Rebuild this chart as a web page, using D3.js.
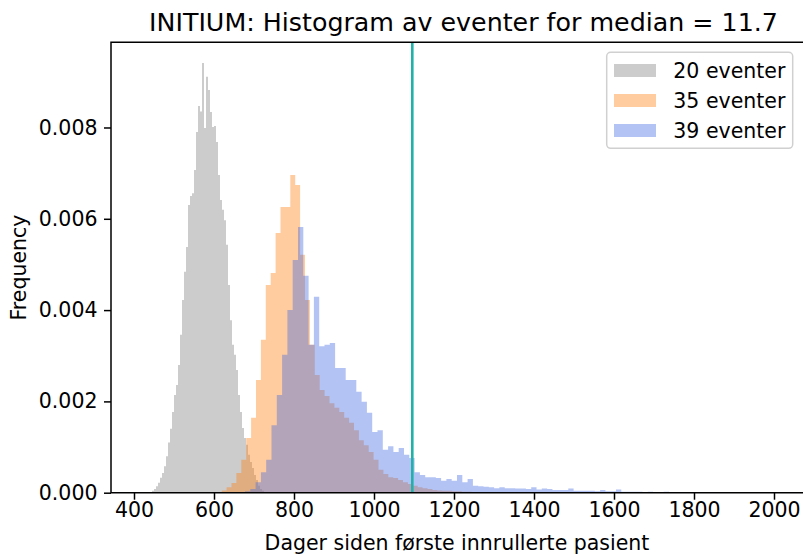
<!DOCTYPE html>
<html>
<head>
<meta charset="utf-8">
<script src="https://cdn.jsdelivr.net/npm/d3@7/dist/d3.min.js"></script>
<style>
  body { margin: 0; background: #fff; }
  text { font-family: "DejaVu Sans", sans-serif; fill: #000; }
</style>
</head>
<body>
<script>
// histogram data (density), one array per series, bin edges = start + i*width
var start20 = 445, width20 = 5;
var freq20 = [0.00004, 0.00008, 0.00014, 0.00022, 0.00033, 0.00043, 0.00058, 0.0008, 0.0011, 0.0014,
  0.00177, 0.00214, 0.00236, 0.0028, 0.00346, 0.00422, 0.00484, 0.00538, 0.0063, 0.0065,
  0.00656, 0.00707, 0.0079, 0.00847, 0.00835, 0.00941, 0.00799, 0.00911, 0.00882, 0.00834,
  0.00801, 0.00803, 0.00768, 0.00696, 0.00641, 0.0062, 0.00597, 0.00543, 0.00455, 0.00378,
  0.00324, 0.00302, 0.00269, 0.00214, 0.00177, 0.00142, 0.0012, 0.00105, 0.00083, 0.00067,
  0.00054, 0.00039, 0.00028, 0.00015, 0.00008, 0.00004];

var start35 = 619.25, width35 = 12.25;
var freq35 = [0.00005, 0.00012, 0.00021, 0.00043, 0.00072, 0.0012, 0.00164, 0.00247, 0.00335, 0.00455,
  0.00481, 0.00569, 0.00626, 0.00626, 0.00696, 0.00674, 0.00521, 0.00422, 0.00324, 0.00258,
  0.00225, 0.00212, 0.00196, 0.00186, 0.00177, 0.00164, 0.00153, 0.00137, 0.00115, 0.00104,
  0.00089, 0.00072, 0.0005, 0.00041, 0.00034, 0.00032, 0.00028, 0.00023, 0.00019, 0.00015,
  0.00012, 0.0001, 0.00008, 0.00006, 0.00005, 0.00004, 0.00004, 0.00003, 0.00003, 0.00002, 0.00002];

var start39 = 677.5, width39 = 13.25;
var freq39 = [0.00003, 0.00008, 0.00023, 0.00045, 0.00072, 0.00148, 0.00214, 0.00302, 0.004, 0.0051,
  0.00582, 0.00475, 0.00324, 0.00429, 0.00321, 0.00324, 0.00328, 0.00273, 0.00273, 0.00247,
  0.00247, 0.00221, 0.00199, 0.00175, 0.00133, 0.00137, 0.00094, 0.00102, 0.00089, 0.00098,
  0.00083, 0.00076, 0.00045, 0.00039, 0.00034, 0.00034, 0.00032, 0.00026, 0.0003, 0.00026,
  0.00039, 0.00023, 0.0003, 0.00015, 0.00014, 0.00013, 0.00012, 0.0001, 0.00012, 0.0001,
  0.0001, 0.00009, 0.00009, 0.00008, 0.00012, 0.00007, 0.00009, 0.00008, 0.00006, 0.00006,
  0.00006, 0.00009, 0.00004, 0.00004, 0.00004, 0.00004, 0.00003, 0.00006, 0.00003, 0.00003,
  0.00007, 0.00002, 0.00002, 0.00002, 0.00002, 0.00001, 0.00002, 0.00001, 0.00001, 0.00002,
  0.00001, 0.00001, 0.00001, 0.00001, 0.00001, 0.00001, 0, 0.00001, 0, 0.00001,
  0, 0, 0, 0, 0, 0, 0, 0, 0, 0.00001];

var labels = ["20 eventer", "35 eventer", "39 eventer"];
var colors = ["#808080", "#ff7f0e", "#4169e1"];
var medianDay = 1095.75;
var xTicks = [400, 600, 800, 1000, 1200, 1400, 1600, 1800, 2000];
var yTicks = [0, 0.002, 0.004, 0.006, 0.008];

var width = 803, height = 554;
var plot = {left: 111, right: 817, top: 42.3, bottom: 492.7};
var fs = "20.5px";

var svg = d3.select("body").append("svg")
  .attr("width", width)
  .attr("height", height);

var x = d3.scaleLinear().domain([342.5, 2107.5]).range([plot.left, plot.right]);
var y = d3.scaleLinear().domain([0, 0.009866]).range([plot.bottom, plot.top]);

// turn bins into step points
function steps(start, w, freq) {
  var pts = freq.map(function(f, i) { return {x: start + i * w, f: f}; });
  pts.push({x: start + freq.length * w, f: freq[freq.length - 1]});
  return pts;
}

var area = d3.area()
  .curve(d3.curveStepAfter)
  .x(function(d) { return x(d.x); })
  .y0(y(0))
  .y1(function(d) { return y(d.f); });

var series = [
  steps(start20, width20, freq20),
  steps(start35, width35, freq35),
  steps(start39, width39, freq39)
];

series.forEach(function(s, i) {
  svg.append("path")
    .datum(s)
    .attr("d", area)
    .attr("fill", colors[i])
    .attr("fill-opacity", 0.4);
});

// median line
svg.append("line")
  .attr("x1", x(medianDay)).attr("x2", x(medianDay))
  .attr("y1", plot.top).attr("y2", plot.bottom)
  .attr("stroke", "#20b2aa")
  .attr("stroke-width", 2.6);

// axes
var xAxis = svg.append("g")
  .attr("transform", "translate(0," + plot.bottom + ")")
  .call(d3.axisBottom(x).tickValues(xTicks).tickSize(7).tickFormat(d3.format("d")));
xAxis.select(".domain").remove();
xAxis.selectAll("line").attr("stroke-width", 1.5);
xAxis.selectAll("text")
  .attr("y", 24.8).attr("dy", 0)
  .style("font-size", fs)
  .style("font-family", "DejaVu Sans");

var yAxis = svg.append("g")
  .attr("transform", "translate(" + plot.left + ",0)")
  .call(d3.axisLeft(y).tickValues(yTicks).tickSize(7).tickPadding(6.5).tickFormat(d3.format(".3f")));
yAxis.select(".domain").remove();
yAxis.selectAll("line").attr("stroke-width", 1.5);
yAxis.selectAll("text")
  .style("font-size", fs)
  .style("font-family", "DejaVu Sans");

// spines
svg.append("path")
  .attr("d", "M" + plot.right + "," + plot.top + "H" + plot.left + "V" + plot.bottom + "H" + plot.right)
  .attr("fill", "none")
  .attr("stroke", "#000")
  .attr("stroke-width", 1.5);

// title and labels
svg.append("text")
  .attr("x", 463.5).attr("y", 31)
  .attr("text-anchor", "middle")
  .style("font-size", "25.3px")
  .text("INITIUM: Histogram av eventer for median = 11.7");

svg.append("text")
  .attr("x", 457).attr("y", 550)
  .attr("text-anchor", "middle")
  .style("font-size", fs)
  .text("Dager siden første innrullerte pasient");

svg.append("text")
  .attr("transform", "translate(26," + (plot.top + plot.bottom) / 2 + ") rotate(-90)")
  .attr("text-anchor", "middle")
  .style("font-size", fs)
  .text("Frequency");

// legend
var legend = svg.append("g");
legend.append("rect")
  .attr("x", 606.7).attr("y", 52.3)
  .attr("width", 186).attr("height", 96)
  .attr("rx", 4)
  .attr("fill", "#fff").attr("fill-opacity", 0.8)
  .attr("stroke", "#d0d0d0").attr("stroke-width", 1.5);

labels.forEach(function(l, i) {
  var cy = 70.5 + i * 30;
  legend.append("rect")
    .attr("x", 614).attr("y", cy - 6.5)
    .attr("width", 42).attr("height", 13)
    .attr("fill", colors[i]).attr("fill-opacity", 0.4);
  legend.append("text")
    .attr("x", 673.3).attr("y", cy + 7.5)
    .style("font-size", fs)
    .text(l);
});
</script>
</body>
</html>
